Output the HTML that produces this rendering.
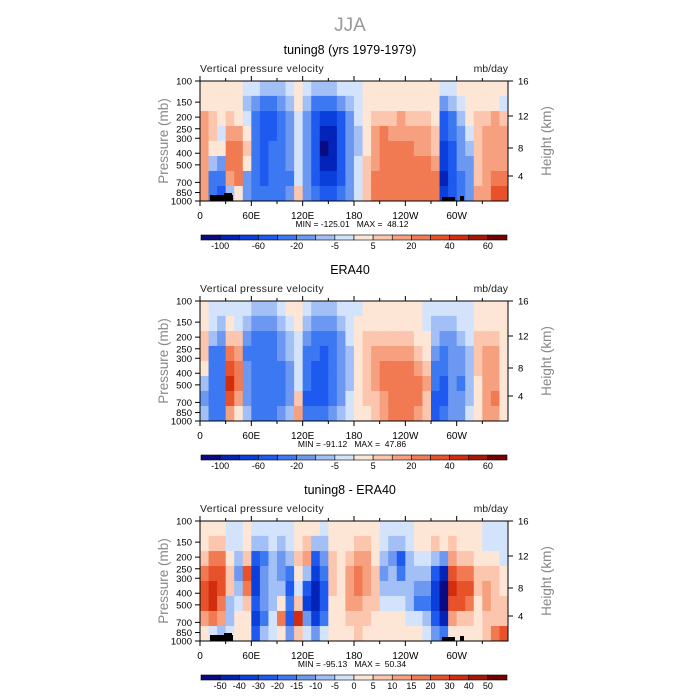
<!DOCTYPE html>
<html><head><meta charset="utf-8">
<style>
body{margin:0;background:#fff;}
svg{display:block;font-family:"Liberation Sans",sans-serif;}
</style></head>
<body>
<svg id="fig" width="700" height="700" viewBox="0 0 700 700" xmlns="http://www.w3.org/2000/svg">
<text x="350" y="31" text-anchor="middle" font-size="19" fill="#999">JJA</text>
</svg>
<script>
// longitudes of column centers (deg), pressure row bounds
const lons = [5,15,25,35,45,55,65,75,85,95,105,115,125,135,145,155,165,175,185,195,205,215,225,235,245,255,265,275,285,295,305,315,325,335,345,355];
const pLevels = [100,133,178,237,316,422,562,750,1000];
// model values per column (rows top->bottom)
const modelCols = [
[3,3,15,15,15,15,15,15],[3,3,7,7,3,-7,-30,-30],[3,3,3,-3,3,-15,-30,-50],[3,3,7,15,25,25,15,-10],
[3,3,3,15,25,25,20,3],[-3,-7,-3,3,7,3,-15,-15],[-3,-15,-30,-40,-40,-40,-40,-30],[-7,-30,-50,-50,-50,-50,-50,-40],
[-7,-30,-50,-50,-40,-40,-40,-40],[-7,-15,-30,-30,-30,-40,-40,-30],[-3,-7,-15,-15,-15,-15,-30,-15],[3,3,-3,-3,-3,-3,-3,7],
[-3,-7,-15,-15,-15,-15,-15,-15],[-7,-30,-50,-50,-60,-60,-50,-40],[-7,-30,-70,-90,-110,-90,-70,-50],[-7,-30,-70,-90,-90,-90,-70,-50],
[-3,-15,-50,-50,-50,-50,-50,-30],[-3,-7,-15,-15,-15,-15,-15,-15],[-3,-3,-3,-7,-7,-3,-3,-3],[3,3,3,3,3,7,7,7],
[3,3,7,15,15,15,20,25],[3,3,7,20,20,20,25,25],[3,3,7,15,25,25,25,25],[3,3,15,15,25,25,25,25],
[3,3,7,15,25,25,25,25],[3,3,7,15,15,25,25,25],[3,3,7,15,15,20,25,25],[3,3,3,7,7,15,25,25],
[-3,-15,-60,-60,-70,-70,-90,-70],[-3,-7,-30,-40,-50,-50,-50,-50],[3,-3,-7,-15,-15,-15,-30,-30],[3,3,3,-3,-7,-15,-15,-15],
[3,3,7,7,7,7,7,15],[3,3,7,15,15,15,15,15],[3,3,15,15,15,15,25,35],[3,-3,7,15,15,15,25,35]];
const eraCols = [
[3,3,7,7,3,-7,-15,-7],[-3,-3,-7,-30,-40,-40,-40,-30],[-3,-7,-15,-30,-30,-30,-30,-40],[-3,3,7,25,35,40,35,15],
[-3,-3,7,15,25,25,15,3],[-3,-7,-15,-30,-20,-15,-15,-7],[-7,-15,-40,-40,-40,-40,-40,-30],[-7,-20,-40,-40,-40,-40,-40,-30],
[-7,-15,-40,-40,-30,-30,-30,-30],[-3,-7,-15,-20,-30,-40,-30,-15],[3,-3,-7,-7,-15,-15,-15,-7],[3,3,-3,-3,-3,-3,7,15],
[-3,-7,-15,-30,-30,-40,-60,-30],[-7,-15,-30,-40,-50,-60,-60,-40],[-7,-15,-40,-50,-60,-60,-50,-30],[-7,-15,-30,-40,-40,-40,-30,-15],
[-3,-7,-15,-20,-20,-15,-15,-7],[-3,-3,-3,-7,-7,-7,-3,-3],[-3,3,3,3,3,3,3,3],[3,3,7,7,7,7,7,3],
[3,3,7,15,15,15,7,7],[3,3,7,15,20,20,15,15],[3,3,7,15,25,25,25,20],[3,3,7,15,25,25,25,20],
[3,3,7,15,20,25,25,20],[3,3,3,7,15,20,20,15],[-3,-3,3,3,7,15,7,7],[-3,-7,-7,-15,-30,-40,-60,-60],
[-3,-7,-15,-30,-40,-50,-60,-40],[-3,-7,-15,-20,-15,-15,-15,-15],[-3,-3,-7,-15,-20,-30,-20,-15],[-3,-3,-3,-7,-7,-7,-7,-3],
[3,3,7,7,7,3,3,3],[3,3,7,15,15,15,15,15],[3,3,7,15,15,15,25,15],[3,3,3,3,3,3,3,3]];
const diffCols = [
[2,2,7,17,25,25,12,2],[2,7,17,25,35,35,17,-2],[2,7,17,25,25,17,12,-7],[-2,-2,2,7,7,-7,-7,-2],
[-2,-2,-7,-12,-7,-2,2,2],[2,2,7,25,17,7,2,2],[-2,-7,-25,-35,-35,-25,-35,-25],[-2,-7,-17,-12,-12,-12,-17,-7],
[-2,-2,-7,-7,-7,-7,-2,-2],[-2,-7,-12,-12,-7,2,17,2],[-2,-2,-7,-17,-25,-17,-25,-12],[2,2,7,2,-2,7,35,7],
[2,7,12,-7,-25,-35,-12,-2],[2,-7,-25,-35,-45,-45,-35,-12],[-2,-7,-12,-17,-25,-25,-17,-2],[2,2,7,7,7,2,2,2],
[2,2,2,2,2,2,2,2],[2,2,7,12,12,12,7,2],[2,7,12,17,17,12,7,7],[2,7,12,12,12,7,7,2],
[2,2,2,7,7,7,2,2],[-2,-2,-7,-12,-7,-2,2,2],[-2,-7,-12,-7,-7,-2,2,2],[-2,-7,-25,-17,-7,-2,2,2],
[-2,-2,-7,-7,-7,-7,-2,2],[2,2,-2,-7,-12,-17,-2,2],[2,2,-2,-7,-12,-17,-7,-2],[2,7,-7,-25,-35,-35,-25,-12],
[2,2,-12,-45,-55,-55,-45,-17],[2,7,12,25,35,25,12,2],[2,2,7,17,25,25,7,2],[2,2,7,17,25,17,7,2],
[2,2,2,7,7,2,2,2],[-2,-2,2,7,12,12,7,7],[-2,-2,2,7,7,7,7,17],[-2,-2,-2,2,2,7,7,25]];
const levelsFull = [-100,-80,-60,-40,-20,-10,-5,0,5,10,20,30,40,50,60];
const levelsDiff = [-50,-40,-30,-20,-15,-10,-5,0,5,10,15,20,30,40,50];
const labelsFull = ['-100','-60','-20','-5','5','20','40','60'];
const labelsDiff = ['-50','-40','-30','-20','-15','-10','-5','0','5','10','15','20','30','40','50'];
const colors = ['#0a0a82','#0423b8','#0a3fdc','#1e5af0','#3c78f2','#6c98f2','#a2bff6','#d2e3fb','#fde6d6','#fbc6ad','#f6a07f','#f17a52','#e8522b','#d02e0e','#a81606','#760000'];
const panelTitles = ['tuning8 (yrs 1979-1979)','ERA40','tuning8 - ERA40'];
const minMax = ['MIN = -125.01\u00a0\u00a0\u00a0MAX =\u00a0\u00a048.12','MIN = -91.12\u00a0\u00a0\u00a0MAX =\u00a0\u00a047.86','MIN = -95.13\u00a0\u00a0\u00a0MAX =\u00a0\u00a050.34'];
const pTicks = [100,150,200,250,300,400,500,700,850,1000];
const hTicks = [4,8,12,16];
const hOffsets = {4:95,8:67,12:35,16:0};
const xTickLabels = [[0,'0'],[60,'60E'],[120,'120E'],[180,'180'],[240,'120W'],[300,'60W']];

const NS='http://www.w3.org/2000/svg';
const svg=document.getElementById('fig');
function mk(tag,attrs,parent,txt){const e=document.createElementNS(NS,tag);for(const k in attrs)e.setAttribute(k,attrs[k]);if(txt!==undefined)e.textContent=txt;(parent||svg).appendChild(e);return e;}
const X0=200,X1=508,H=120;
const xs=lon=>X0+(X1-X0)*lon/360;
function colorIdx(v,lv){let i=0;while(i<lv.length&&v>=lv[i])i++;return i;}

function panel(k,top,cols,lv,labels,topo){
  const g=mk('g',{});
  
  
  const ys=p=>top+H*Math.log10(p/100);
  const t=mk('text',{x:350,y:top-27,'text-anchor':'middle','font-size':12.5},g,panelTitles[k]);
  
  const s1=mk('text',{x:200,y:top-9,'font-size':10.5,fill:'#222','letter-spacing':'0.3'},g,'Vertical pressure velocity');
  
  const s2=mk('text',{x:508,y:top-9,'font-size':10.5,fill:'#222','text-anchor':'end'},g,'mb/day');
  
  cols.forEach((col,ci)=>{
    col.forEach((v,ri)=>{
      const x=xs(lons[ci]-5), y=ys(pLevels[ri]);
      const r=mk('rect',{x:x,y:y,width:xs(lons[ci]+5)-x+0.4,height:ys(pLevels[ri+1])-y+0.4,fill:colors[colorIdx(v,lv)]},g);
      
      
    });
  });
  topo.forEach(b=>{const r=mk('rect',{x:b[0],y:top+H-b[1],width:b[2],height:b[1],fill:'#000'},g);
    });
  const fr=mk('rect',{x:X0,y:top,width:X1-X0,height:H,fill:'none',stroke:'#000','stroke-width':1},g);
  
  for(let lon=0;lon<360;lon+=30){const major=lon%60===0;const x=xs(lon);
    mk('line',{x1:x,x2:x,y1:top,y2:top-(major?5:3),stroke:'#000'},g);
    mk('line',{x1:x,x2:x,y1:top+H,y2:top+H+(major?5:3),stroke:'#000'},g);}
  xTickLabels.forEach(([lon,l])=>{const tt=mk('text',{x:xs(lon),y:top+H+18,'text-anchor':'middle','font-size':10},g,l);
    });
  const mm=mk('text',{x:352,y:top+H+26,'text-anchor':'middle','font-size':8.5},g,minMax[k]);
  
  pTicks.forEach(p=>{const y=ys(p);mk('line',{x1:X0,x2:X0-5,y1:y,y2:y,stroke:'#000'},g);
    const tt=mk('text',{x:X0-8,y:y+3.5,'text-anchor':'end','font-size':9.5},g,String(p));
    });
  hTicks.forEach(h=>{const y=top+hOffsets[h];mk('line',{x1:X1,x2:X1+5,y1:y,y2:y,stroke:'#000'},g);
    const tt=mk('text',{x:X1+10,y:y+3.5,'font-size':9.5},g,String(h));
    });
  const yl=mk('text',{x:0,y:0,'font-size':13.5,fill:'#888','text-anchor':'middle',transform:`translate(168,${top+60}) rotate(-90)`},g,'Pressure (mb)');
  
  const yr=mk('text',{x:0,y:0,'font-size':13.5,fill:'#888','text-anchor':'middle',transform:`translate(551,${top+60}) rotate(-90)`},g,'Height (km)');
  
  // colorbar
  const cb=mk('g',{},g);
  
  const cy=top+154,bw=(507-201)/16;
  colors.forEach((c,i)=>{const r=mk('rect',{x:201+i*bw,y:cy,width:bw,height:5,fill:c,stroke:'#000','stroke-width':0.6},cb);
    });
  const step = labels.length===8?2:1;
  labels.forEach((l,i)=>{const bi=i*step+1;const tt=mk('text',{x:201+bi*bw,y:cy+14,'text-anchor':'middle','font-size':9},cb,l);
    });
}
const topoModel=[[210,6,23],[224,8,8],[442,4,13],[460,5,4]];
panel(0,81,modelCols,levelsFull,labelsFull,topoModel);
panel(1,301,eraCols,levelsFull,labelsFull,[]);
panel(2,521,diffCols,levelsDiff,labelsDiff,topoModel);
</script>
</body></html>
